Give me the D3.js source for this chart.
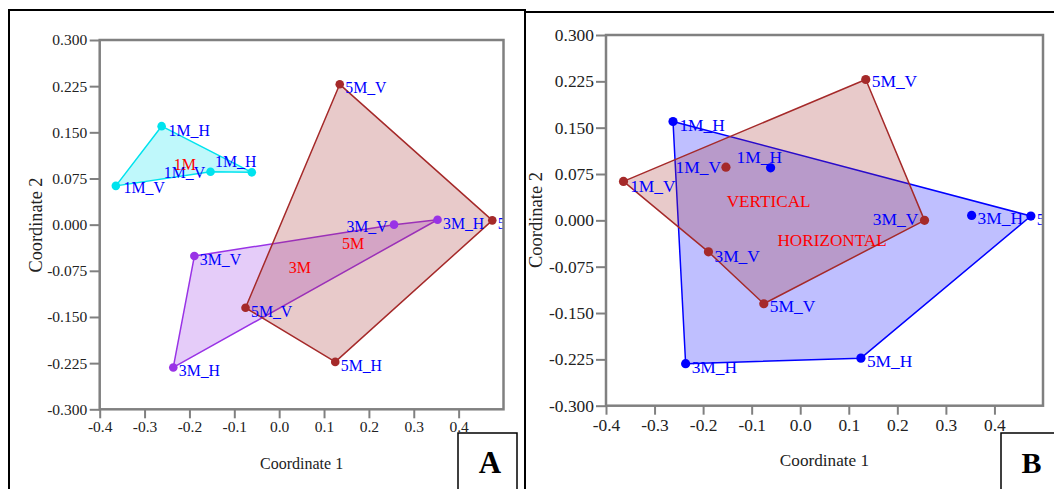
<!DOCTYPE html>
<html><head><meta charset="utf-8">
<script src="https://cdn.jsdelivr.net/npm/d3@7"></script>
<style>
html,body{margin:0;padding:0;background:#fff;}
svg{display:block;font-family:"Liberation Serif","Times New Roman",serif;}
</style></head><body>
<svg id="fig" width="1054" height="489"></svg>
<script>
// Ordination scores (coordinate 1 / coordinate 2) for the twelve samples
const samples = ["1M_H","1M_H","1M_V","1M_V","3M_H","3M_H","3M_V","3M_V","5M_H","5M_H","5M_V","5M_V"];
const coord1  = [-0.262,-0.061,-0.364,-0.153, 0.353,-0.236, 0.256,-0.189, 0.475, 0.125, 0.135,-0.075];
const coord2  = [ 0.160, 0.085, 0.063, 0.086, 0.008,-0.232, 0.000,-0.051, 0.007,-0.223, 0.228,-0.135];

// Axis ticks
const xTicks = [-0.4,-0.3,-0.2,-0.1,0.0,0.1,0.2,0.3,0.4];
const yTicks = [0.300,0.225,0.150,0.075,0.000,-0.075,-0.150,-0.225,-0.300];

// Grouping by age (panel A) and by orientation (panel B); outlines list sample indices in drawing order
const ageGroups = ["1M","3M","5M"];
const ageOutline = [[0,1,3,2],[7,6,4,5],[10,8,9,11]];
const orientGroups = ["HORIZONTAL","VERTICAL"];
const orientOutline = [[0,8,9,5],[2,10,6,11,7]];

const age = samples.map(s => s.slice(0,2));
const orientation = samples.map(s => s.endsWith("_H") ? "HORIZONTAL" : "VERTICAL");

const svg = d3.select("#fig");

// Panel frames
svg.append("path").attr("d","M9,489V10H525V489").attr("fill","none").attr("stroke","#000").attr("stroke-width",2);
svg.append("path").attr("d","M525,12H1060").attr("fill","none").attr("stroke","#000").attr("stroke-width",2);

const panels = [
  { tag:"A", x0:99.7, x1:503.5, y0:40, y1:409.3,
    tickFont:15.5, labelFont:15.8, groupFont:16, titleFont:16, yTitleFont:18.3, r:4.3,
    xTitle:[301.6,469], yTitle:[42,225], yPad:2.5, xPad:3,
    groups:ageGroups, outlines:ageOutline, member:age,
    colors:["#00e3ee","#9933e6","#a52a2a"],
    nudge:{0:[7,9.5],1:[-36.7,-5],2:[7.7,7.5],3:[-46.7,6],6:[-47.6,7]}, nudgeDefault:[5.5,9],
    box:[458,433,59,70], letter:[490,473], letterFont:31 },
  { tag:"B", x0:606, x1:1043, y0:35, y1:405.7,
    tickFont:17.4, labelFont:17.4, groupFont:17.2, titleFont:17.2, yTitleFont:18.5, r:4.6,
    xTitle:[824.5,466], yTitle:[542,220], yPad:2, xPad:3.5,
    groups:orientGroups, outlines:orientOutline, member:orientation,
    colors:["#0000ff","#a52a2a"],
    nudge:{0:[6.4,10],1:[-34,-5],2:[6.7,10.6],3:[-50.4,6],6:[-51.7,5],7:[6,10],10:[6,8],11:[6,8]}, nudgeDefault:[6,9],
    box:[1001,433,80,70], letter:[1031.4,473], letterFont:30 }
];

panels.forEach(p => {
  const x = d3.scaleLinear().domain([-0.4,0.5]).range([p.x0,p.x1]);
  const y = d3.scaleLinear().domain([-0.3,0.3]).range([p.y1,p.y0]);
  const g = svg.append("g");

  const clipId = "clip" + p.tag;
  svg.append("clipPath").attr("id",clipId)
    .append("rect").attr("x",p.x0).attr("y",p.y0).attr("width",p.x1-p.x0).attr("height",p.y1-p.y0);

  const plot = g.append("g").attr("clip-path",`url(#${clipId})`);

  // Group outlines
  p.groups.forEach((grp,gi) => {
    const pts = p.outlines[gi].map(i => [x(coord1[i]), y(coord2[i])]);
    plot.append("path")
      .attr("d", d3.line()(pts) + "Z")
      .attr("fill", p.colors[gi]).attr("fill-opacity",0.25)
      .attr("stroke", p.colors[gi]).attr("stroke-width",1.5).attr("stroke-linejoin","round");
  });

  // Sample points
  samples.forEach((s,i) => {
    const gi = p.groups.indexOf(p.member[i]);
    plot.append("circle")
      .attr("cx", x(coord1[i])).attr("cy", y(coord2[i])).attr("r", p.r)
      .attr("fill", p.colors[gi]);
  });

  // Sample labels
  samples.forEach((s,i) => {
    const n = p.nudge[i] || p.nudgeDefault;
    plot.append("text")
      .attr("x", x(coord1[i]) + n[0]).attr("y", y(coord2[i]) + n[1])
      .attr("font-size", p.labelFont).attr("fill","#0000ff")
      .text(s);
  });

  // Group names at group means
  p.groups.forEach((grp,gi) => {
    const idx = samples.map((s,i)=>i).filter(i => p.member[i] === grp);
    plot.append("text")
      .attr("x", x(d3.mean(idx, i => coord1[i])))
      .attr("y", y(d3.mean(idx, i => coord2[i])))
      .attr("dy","0.35em").attr("text-anchor","middle")
      .attr("font-size", p.groupFont).attr("fill","#ff0000")
      .text(grp);
  });

  // Axes
  const yAxis = d3.axisLeft(y).tickValues(yTicks).tickFormat(d => d.toFixed(3))
    .tickSize(10).tickSizeOuter(0).tickPadding(p.yPad);
  const xAxis = d3.axisBottom(x).tickValues(xTicks).tickFormat(d => d.toFixed(1))
    .tickSize(9).tickSizeOuter(0).tickPadding(p.xPad);
  [g.append("g").attr("transform",`translate(${p.x0},0)`).call(yAxis),
   g.append("g").attr("transform",`translate(0,${p.y1})`).call(xAxis)].forEach(a => {
    a.select(".domain").remove();
    a.selectAll(".tick line").attr("stroke","#808080").attr("stroke-width",2);
    a.selectAll(".tick text").attr("fill","#222").attr("font-size",p.tickFont)
      .attr("font-family","'Liberation Serif','Times New Roman',serif");
  });

  // Plot frame
  g.append("rect").attr("x",p.x0).attr("y",p.y0).attr("width",p.x1-p.x0).attr("height",p.y1-p.y0)
    .attr("fill","none").attr("stroke","#808080").attr("stroke-width",2.5);

  // Axis titles
  g.append("text").attr("x",p.xTitle[0]).attr("y",p.xTitle[1]).attr("text-anchor","middle")
    .attr("font-size",p.titleFont).attr("fill","#222").text("Coordinate 1");
  g.append("text").attr("transform",`translate(${p.yTitle[0]},${p.yTitle[1]}) rotate(-90)`)
    .attr("text-anchor","middle").attr("font-size",p.yTitleFont).attr("fill","#222").text("Coordinate 2");

  // Panel letter
  g.append("rect").attr("x",p.box[0]).attr("y",p.box[1]).attr("width",p.box[2]).attr("height",p.box[3])
    .attr("fill","#fff").attr("stroke","#000").attr("stroke-width",1.5);
  g.append("text").attr("x",p.letter[0]).attr("y",p.letter[1]).attr("text-anchor","middle")
    .attr("font-size",p.letterFont).attr("font-weight","bold").attr("fill","#000").text(p.tag);
});
</script>
</body></html>
